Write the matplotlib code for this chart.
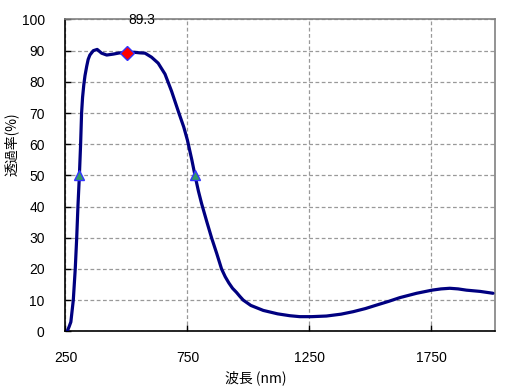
import matplotlib
matplotlib.use("Agg")
import matplotlib.pyplot as plt

# transmittance curve
wavelength = [257, 265, 272, 282, 290, 296, 301, 307, 312, 316, 320, 325, 330, 337, 343,
              350, 364, 380, 398, 419, 446, 473, 502, 530, 555, 576, 603, 630, 658, 685,
              715, 735, 750, 768, 781, 795, 808, 830, 849, 870, 890, 905, 920, 935, 951,
              965, 979, 1010, 1061, 1120, 1170, 1211, 1260, 1320, 1380, 1430, 1480, 1525,
              1575, 1621, 1690, 1753, 1790, 1826, 1860, 1894, 1950, 2003]
transmit = [0, 1.5, 3, 10, 20, 30, 40, 50, 60, 70, 75, 79, 82, 85, 87.2,
            88.6, 90, 90.4, 89.2, 88.6, 88.9, 89.3, 89.3, 89.5, 89.3, 89.2, 87.9, 86, 82.5, 77,
            70, 65.5, 61.3, 55, 50, 45, 41, 35, 30, 25, 20, 17.5, 15.5, 13.8, 12.5,
            11.2, 10, 8.3, 6.7, 5.6, 5.0, 4.7, 4.7, 4.9, 5.5, 6.3, 7.3, 8.4,
            9.6, 10.8, 12.2, 13.2, 13.6, 13.8, 13.6, 13.2, 12.8, 12.2]

half_x = [307, 781]
half_y = [50, 50]
peak_x = 502
peak_y = 89.3

xticks = [250, 750, 1250, 1750]
yticks = list(range(0, 101, 10))

plt.rcParams['font.family'] = ['Liberation Sans', 'DejaVu Sans']
cjk = ['Noto Sans CJK JP', 'DejaVu Sans']

fig = plt.figure(figsize=(5.21, 3.89), dpi=100)
ax = fig.add_axes([0.1257, 0.1483, 0.8238, 0.8016])

ax.plot(wavelength, transmit, color='#000080', lw=2.3, solid_capstyle='round',
        solid_joinstyle='round', zorder=3)
ax.plot(half_x, half_y, ls='none', marker='^', ms=7.5, mfc='#339966', mec='#3333ff',
        mew=1, zorder=4)
ax.plot([peak_x], [peak_y], ls='none', marker='D', ms=7.5, mfc='#ff0000', mec='#3333ff',
        mew=1, zorder=4)
ax.annotate(f"{peak_y}", (peak_x, peak_y), xytext=(11, 24), textcoords='offset points',
            ha='center', va='center', fontsize=10, color='black')

ax.set_xlim(250, 2010)
ax.set_ylim(0, 100)
ax.set_xticks(xticks)
ax.set_yticks(yticks)
ax.tick_params(direction='in', length=4, width=1, colors='black', labelsize=10)
ax.tick_params(axis='x', pad=14, top=False)
ax.tick_params(axis='y', pad=15, right=False)

ax.grid(True, color='#999999', ls=(0, (3, 2)), lw=0.9)
ax.set_axisbelow(True)
for side in ['top', 'right']:
    ax.spines[side].set_color('#808080')
    ax.spines[side].set_linewidth(1.2)
for side in ['left', 'bottom']:
    ax.spines[side].set_color('black')
    ax.spines[side].set_linewidth(1.2)

ax.set_xlabel('波長 (nm)', family=cjk, fontsize=10)
ax.xaxis.set_label_coords(0.444, -0.125)
fig.text(11 / 521, 1 - 144 / 389, '透過率(%)', family=cjk, fontsize=10,
         rotation=90, ha='center', va='center')

fig.savefig('out.png', dpi=100)
